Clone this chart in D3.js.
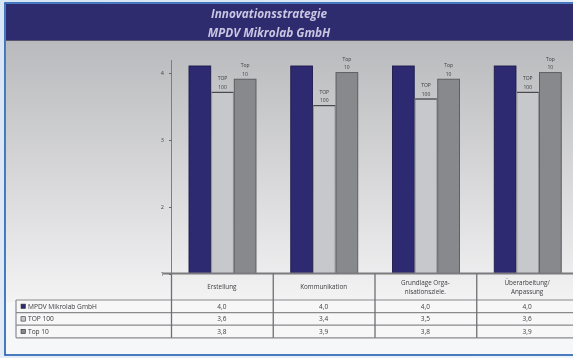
<!DOCTYPE html>
<html>
<head>
<meta charset="utf-8">
<script src="https://cdn.jsdelivr.net/npm/d3@7"></script>
<style>
  html, body { margin: 0; padding: 0; background: #e4edf7; }
  svg { display: block; filter: blur(0.3px); }
  text { font-family: "Open Sans", "DejaVu Sans", sans-serif; }
</style>
</head>
<body>
<svg id="chart" width="573" height="358"></svg>
<script>
// ---- data ----
const titleLines = ["Innovationsstrategie", "MPDV Mikrolab GmbH"];
const categories = ["Erstellung", "Kommunikation", "Grundlage Orga-\nnisationsziele.", "Überarbeitung/\nAnpassung"];
const seriesNames = ["MPDV Mikrolab GmbH", "TOP 100", "Top 10"];
const mpdvValues = [4.0, 4.0, 4.0, 4.0];
const top100Values = [3.6, 3.4, 3.5, 3.6];
const top10Values = [3.8, 3.9, 3.8, 3.9];
const yTickValues = [1, 2, 3, 4];
const barTags = [null, ["TOP", "100"], ["Top", "10"]];

const seriesValues = [mpdvValues, top100Values, top10Values];
const fmt = v => d3.format(".1f")(v).replace(".", ",");

// ---- layout ----
const W = 573, H = 358;
const svg = d3.select("#chart");
const defs = svg.append("defs");

const bgGrad = defs.append("linearGradient").attr("id", "outerBg").attr("x1", 0).attr("y1", 0).attr("x2", 1).attr("y2", 1);
bgGrad.append("stop").attr("offset", "0%").attr("stop-color", "#d8e5f4");
bgGrad.append("stop").attr("offset", "100%").attr("stop-color", "#eef3fa");

const panelGrad = defs.append("linearGradient").attr("id", "panelBg").attr("x1", 0).attr("y1", 0).attr("x2", 0).attr("y2", 1);
panelGrad.append("stop").attr("offset", "0%").attr("stop-color", "#b9babd");
panelGrad.append("stop").attr("offset", "55%").attr("stop-color", "#d9d9db");
panelGrad.append("stop").attr("offset", "100%").attr("stop-color", "#f3f3f4");

svg.append("rect").attr("width", W).attr("height", H).attr("fill", "url(#outerBg)");

// frame (blue border on left/top/bottom)
const frameL = 5, frameT = 3, frameB = 355;
svg.append("rect").attr("x", frameL).attr("y", frameT).attr("width", W - frameL + 5).attr("height", frameB - frameT)
  .attr("fill", "#f6f7f8").attr("stroke", "#1f5cb0").attr("stroke-width", 1.6);

// chart panel gradient
svg.append("rect").attr("x", frameL + 1).attr("y", 40).attr("width", W).attr("height", 262)
  .attr("fill", "url(#panelBg)");

// title band
svg.append("rect").attr("x", frameL + 1).attr("y", frameT + 1).attr("width", W).attr("height", 36)
  .attr("fill", "#2f2b6f");
svg.append("line").attr("x1", frameL + 1).attr("x2", W).attr("y1", 40.5).attr("y2", 40.5)
  .attr("stroke", "#58566e").attr("stroke-width", 1.2);

svg.append("g").selectAll("text").data(titleLines).join("text")
  .attr("x", 269).attr("y", (d, i) => 18 + i * 18.5)
  .attr("text-anchor", "middle")
  .attr("font-size", 11.8).attr("font-weight", "bold").attr("font-style", "italic")
  .attr("fill", "#c9c6e2")
  .text(d => d);

// scales
const baseY = 273.5;
const x = d3.scaleBand().domain(categories).range([171, 578]);
const xInner = d3.scaleBand().domain(seriesNames).range([18, 85]).paddingInner(0.04);
const yAxisScale = d3.scaleLinear().domain([1, 4]).range([274, 73]);
const yBarScale = d3.scaleLinear().domain([1, 4]).range([264, 66]);

// y axis
svg.append("line").attr("x1", 171.5).attr("x2", 171.5).attr("y1", 60).attr("y2", baseY)
  .attr("stroke", "#7d7d80").attr("stroke-width", 1);
const yAxis = svg.append("g").attr("transform", "translate(171.5,0)")
  .call(d3.axisLeft(yAxisScale).tickValues(yTickValues).tickSize(2.5).tickPadding(5).tickFormat(d3.format("d")));
yAxis.select(".domain").remove();
yAxis.selectAll(".tick line").attr("stroke", "#666");
yAxis.selectAll(".tick text").attr("font-size", 5.5).attr("fill", "#444")
  .attr("font-family", "'Open Sans', sans-serif");

// bars
const colors = ["#2e2a72", "#c7c8cb", "#88898c"];
const strokes = ["#1d1a4c", "#8f8f93", "#58585b"];
const groups = svg.append("g").selectAll("g").data(categories).join("g")
  .attr("transform", d => `translate(${x(d)},0)`);

seriesNames.forEach((s, si) => {
  groups.append("rect")
    .attr("x", xInner(s))
    .attr("y", (d, ci) => yBarScale(seriesValues[si][ci]))
    .attr("width", xInner.bandwidth())
    .attr("height", (d, ci) => baseY - yBarScale(seriesValues[si][ci]))
    .attr("fill", colors[si]).attr("stroke", strokes[si]).attr("stroke-width", 0.9);
  if (si === 1) {
    groups.append("line")
      .attr("x1", xInner(s)).attr("x2", xInner(s) + xInner.bandwidth())
      .attr("y1", (d, ci) => yBarScale(seriesValues[si][ci]))
      .attr("y2", (d, ci) => yBarScale(seriesValues[si][ci]))
      .attr("stroke", "#4a4a4d").attr("stroke-width", 1.2);
  }
  if (barTags[si]) {
    barTags[si].forEach((t, li) => {
      groups.append("text")
        .attr("x", xInner(s) + xInner.bandwidth() / 2)
        .attr("y", (d, ci) => yBarScale(seriesValues[si][ci]) - 12 + li * 8.5)
        .attr("text-anchor", "middle").attr("font-size", 5).attr("fill", "#3c3c3e")
        .text(t);
    });
  }
});

// baseline
svg.append("line").attr("x1", 163).attr("x2", W).attr("y1", baseY).attr("y2", baseY)
  .attr("stroke", "#7b7b7e").attr("stroke-width", 2);

// table
const rowTop = 300, rowH = 12.6;
const tableLeft = 16;
const lineColor = "#8a8a8d";
const rowsY = seriesNames.map((s, i) => rowTop + i * rowH);
const tableBottom = rowTop + seriesNames.length * rowH;

svg.append("rect").attr("x", tableLeft).attr("y", rowTop).attr("width", W - tableLeft).attr("height", tableBottom - rowTop)
  .attr("fill", "#f7f7f8");

[rowTop, ...rowsY.slice(1), tableBottom].forEach(yy => {
  svg.append("line").attr("x1", tableLeft).attr("x2", W).attr("y1", yy).attr("y2", yy)
    .attr("stroke", lineColor).attr("stroke-width", 1.2);
});
svg.append("line").attr("x1", tableLeft).attr("x2", tableLeft).attr("y1", rowTop).attr("y2", tableBottom)
  .attr("stroke", lineColor).attr("stroke-width", 1.2);
categories.forEach(c => {
  svg.append("line").attr("x1", x(c) + 0.5).attr("x2", x(c) + 0.5).attr("y1", baseY).attr("y2", tableBottom)
    .attr("stroke", "#6f6f72").attr("stroke-width", 1.3);
});

categories.forEach(c => {
  const lines = c.split("\n");
  const cy = (baseY + rowTop) / 2 + 2.5;
  lines.forEach((ln, li) => {
    svg.append("text")
      .attr("x", x(c) + x.bandwidth() / 2)
      .attr("y", cy + (li - (lines.length - 1) / 2) * 8.5)
      .attr("text-anchor", "middle").attr("font-size", 6.3).attr("fill", "#3d3d40")
      .text(ln);
  });
});

seriesNames.forEach((s, si) => {
  const yy = rowsY[si];
  svg.append("rect").attr("x", 21).attr("y", yy + rowH / 2 - 2.2).attr("width", 4.4).attr("height", 4.4)
    .attr("fill", colors[si]).attr("stroke", "#333").attr("stroke-width", 0.6);
  svg.append("text").attr("x", 28).attr("y", yy + rowH / 2 + 2.3)
    .attr("font-size", 6.6).attr("fill", "#3a3a3d").text(s);
  categories.forEach((c, ci) => {
    svg.append("text")
      .attr("x", x(c) + x.bandwidth() / 2).attr("y", yy + rowH / 2 + 2.3)
      .attr("text-anchor", "middle").attr("font-size", 6.5).attr("fill", "#3d3d40")
      .text(fmt(seriesValues[si][ci]));
  });
});
</script>
</body>
</html>
